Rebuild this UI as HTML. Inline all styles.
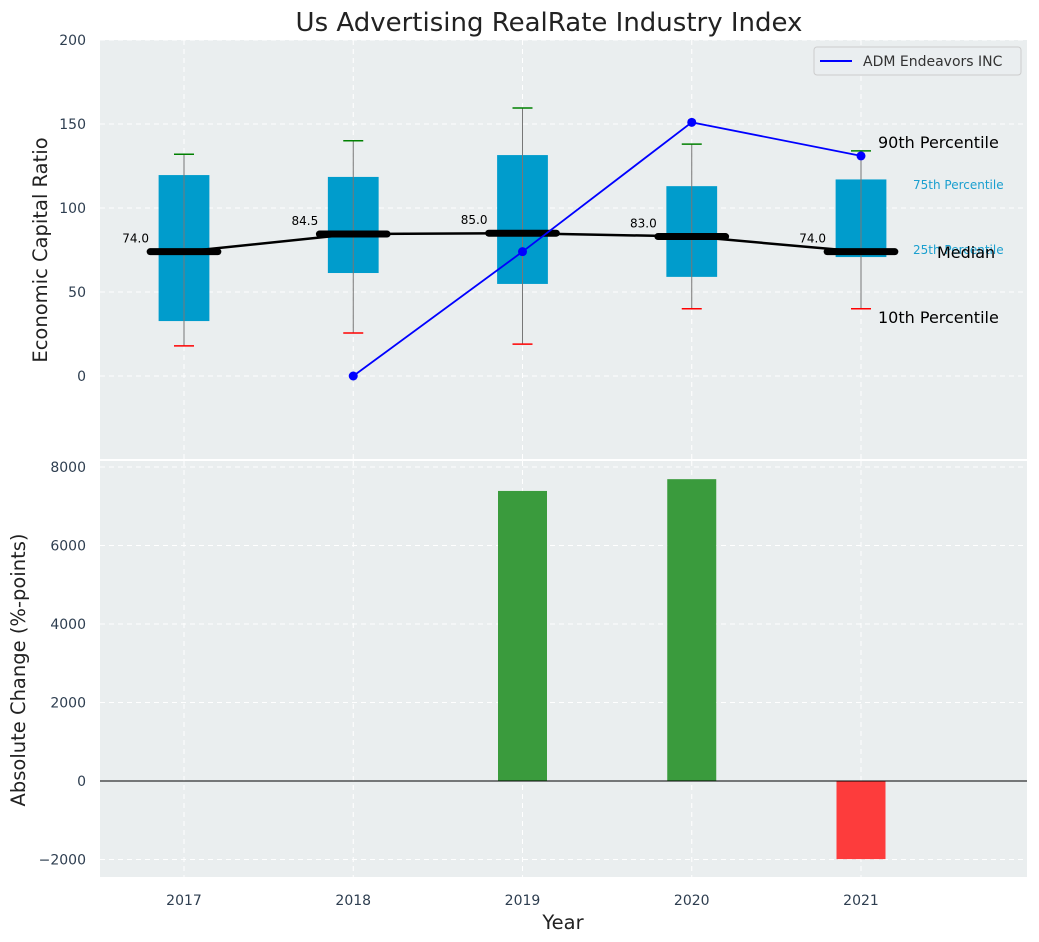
<!DOCTYPE html>
<html><head><meta charset="utf-8"><style>
body{margin:0;background:#fff;}
svg{display:block;font-family:"DejaVu Sans","Liberation Sans",sans-serif;}
</style></head><body>
<svg id="c" width="1039" height="942" xmlns="http://www.w3.org/2000/svg"></svg>
<script>
const years=[2017,2018,2019,2020,2021];
const p10=[17.9,25.6,19,40,40];
const q1=[32.7,61.3,54.8,59,70.8];
const med=[74,84.5,85,83,74];
const q3=[119.6,118.5,131.5,113,117];
const p90=[132,140,159.5,138,134];
const compYears=[2018,2019,2020,2021];
const compVals=[0,74,151,131];
const changeYears=[2019,2020,2021];
const changeVals=[7390,7690,-1990];
const topTicks=[0,50,100,150,200];
const botTicks=[-2000,0,2000,4000,6000,8000];

const NS="http://www.w3.org/2000/svg";
const svg=document.getElementById('c');
function el(t,a,p){const e=document.createElementNS(NS,t);for(const k in a)e.setAttribute(k,a[k]);(p||svg).appendChild(e);return e;}
const L=100,R=1027;
const X=v=>184+(v-2017)*169.25;
const YT=v=>376-v*1.68;
const YB=v=>781-v*0.03925;
const dx=169.25;

let e;
e=el('rect',{x:L,y:40,width:R-L,height:419,fill:'#eaeeef'});

e=el('rect',{x:L,y:461,width:R-L,height:416,fill:'#eaeeef'});


topTicks.forEach(t=>{el('line',{x1:L,x2:R,y1:YT(t),y2:YT(t),stroke:'#fff','stroke-dasharray':'5,4','stroke-width':1});
 e=el('text',{x:86,y:YT(t)+5,'text-anchor':'end','font-size':14,fill:'#2e3e50'});e.textContent=t;
 });
botTicks.forEach(t=>{el('line',{x1:L,x2:R,y1:YB(t),y2:YB(t),stroke:'#fff','stroke-dasharray':'5,4','stroke-width':1});
 e=el('text',{x:86,y:YB(t)+5,'text-anchor':'end','font-size':14,fill:'#2e3e50'});e.textContent=(t<0?'\u2212'+(-t):t);
 });
years.forEach(y=>{
 el('line',{x1:X(y),x2:X(y),y1:40,y2:459,stroke:'#fff','stroke-dasharray':'5,4'});
 el('line',{x1:X(y),x2:X(y),y1:461,y2:877,stroke:'#fff','stroke-dasharray':'5,4'});
 e=el('text',{x:X(y),y:905,'text-anchor':'middle','font-size':14,fill:'#2e3e50'});e.textContent=y;
 
});

years.forEach((y,i)=>{
 const cx=X(y);
 e=el('rect',{x:cx-0.15*dx,y:YT(q3[i]),width:0.3*dx,height:YT(q1[i])-YT(q3[i]),fill:'#009ccc'});
 
 el('line',{x1:cx,x2:cx,y1:YT(p10[i]),y2:YT(p90[i]),stroke:'#777','stroke-width':1});
 el('line',{x1:cx-10,x2:cx+10,y1:YT(p10[i]),y2:YT(p10[i]),stroke:'red','stroke-width':1.5});
 el('line',{x1:cx-10,x2:cx+10,y1:YT(p90[i]),y2:YT(p90[i]),stroke:'green','stroke-width':1.5});
});
e=el('polyline',{points:years.map((y,i)=>X(y)+','+YT(med[i])).join(' '),fill:'none',stroke:'#000','stroke-width':2.5});

years.forEach((y,i)=>{
 el('line',{x1:X(y)-0.2*dx,x2:X(y)+0.2*dx,y1:YT(med[i]),y2:YT(med[i]),stroke:'#000','stroke-width':7,'stroke-linecap':'round'});
 e=el('text',{x:X(y)-35,y:YT(med[i])-9,'text-anchor':'end','font-size':12,fill:'#000'});e.textContent=med[i].toFixed(1);
 
});
e=el('polyline',{points:compYears.map((y,i)=>X(y)+','+YT(compVals[i])).join(' '),fill:'none',stroke:'blue','stroke-width':1.8});

compYears.forEach((y,i)=>{e=el('circle',{cx:X(y),cy:YT(compVals[i]),r:4.5,fill:'blue'});
 });

const ann=[['90th Percentile',878,148,16,'#000'],['75th Percentile',913,189,12,'#1a9fcf'],['25th Percentile',913,254,12,'#1a9fcf'],['Median',937,258,16,'#000'],['10th Percentile',878,323,16,'#000']];
ann.forEach(a=>{e=el('text',{x:a[1],y:a[2],'font-size':a[3],fill:a[4]});e.textContent=a[0];
 });

const lg=el('g',{});
el('rect',{x:814,y:47,width:207,height:28,rx:3,fill:'#eaeef0',stroke:'#ccc'},lg);
el('line',{x1:820,x2:852,y1:61,y2:61,stroke:'blue','stroke-width':2},lg);
e=el('text',{x:863,y:66,'font-size':14,fill:'#333'},lg);e.textContent='ADM Endeavors INC';

changeYears.forEach((y,i)=>{const v=changeVals[i];
 e=el('rect',{x:X(y)-24.5,y:Math.min(YB(v),YB(0)),width:49,height:Math.abs(YB(v)-YB(0)),fill:v>=0?'#3a9b3d':'#fd3c3c'});
 });
el('line',{x1:L,x2:R,y1:YB(0),y2:YB(0),stroke:'#000','stroke-width':1});

e=el('text',{x:549,y:31,'text-anchor':'middle','font-size':26,fill:'#222'});e.textContent='Us Advertising RealRate Industry Index';

e=el('text',{x:0,y:0,'text-anchor':'middle','font-size':19.5,fill:'#222',transform:'translate(47,250) rotate(-90)'});e.textContent='Economic Capital Ratio';

e=el('text',{x:0,y:0,'text-anchor':'middle','font-size':19.5,fill:'#222',transform:'translate(25,670) rotate(-90)'});e.textContent='Absolute Change (%-points)';

e=el('text',{x:563,y:929,'text-anchor':'middle','font-size':19.5,fill:'#222'});e.textContent='Year';

</script>
</body></html>
